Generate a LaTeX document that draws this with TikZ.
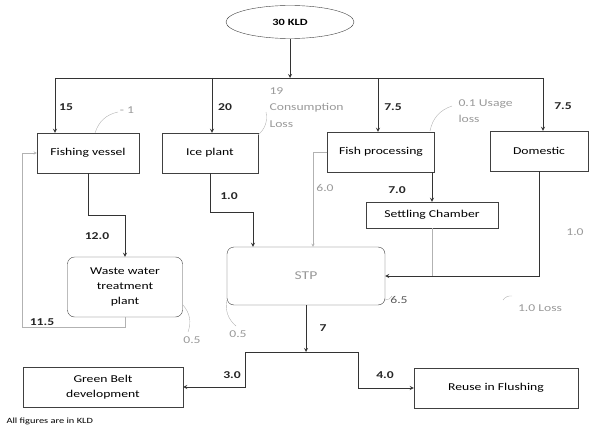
\documentclass[tikz,border=0pt]{standalone}
\usepackage{fontspec}
\setmainfont{Carlito}[FakeStretch=1.3]
\usetikzlibrary{arrows}
\usetikzlibrary{shapes}

\begin{document}
\begin{tikzpicture}[x=1pt, y=-1pt, >=stealth,
  box/.style={draw=black!75, rectangle, minimum height=40pt, font=\fontsize{10.5}{15}\selectfont, align=center},
  rbox/.style={box, rounded corners=7pt},
  num/.style={font=\fontsize{10.5}{13}\selectfont\bfseries, text=black!85},
  loss/.style={font=\fontsize{10.5}{16.5}\selectfont, text=black!40},
  flow/.style={draw=black!80, thick},
  lossline/.style={draw=black!30}]
\useasboundingbox (0,0) rectangle (589,428);

\node[ellipse, draw=black!75, minimum width=128pt, minimum height=33pt, font=\fontsize{9.5}{12}\selectfont\bfseries] (kld) at (290,22) {30 KLD};
\node[box, minimum width=102pt] (fv) at (88,153) {Fishing vessel};
\node[box, minimum width=96pt] (ice) at (210,153) {Ice plant};
\node[box, minimum width=107pt] (fp) at (381,152) {Fish processing};
\node[box, minimum width=98pt] (dom) at (539,151) {Domestic};
\node[box, minimum width=132pt, minimum height=26pt] (sc) at (432,215) {Settling Chamber};
\node[rbox, minimum width=158pt, minimum height=58pt, font=\large, text=black!40] (stp) at (306,276) {STP};
\node[rbox, minimum width=115pt, minimum height=60pt] (wwtp) at (125,287) {Waste water\\treatment\\plant};
\node[box, minimum width=160pt] (gb) at (103,387) {Green Belt\\development};
\node[box, minimum width=164pt] (reuse) at (496,388) {Reuse in Flushing};

\coordinate (bus) at (290,78);
\coordinate (busL) at (55,78);
\coordinate (busI) at (212,78);
\coordinate (busF) at (378,78);
\coordinate (busR) at (543,78);
\coordinate (split) at (306,352);
\coordinate (splitL) at (245,352);
\coordinate (splitR) at (358,352);
\coordinate (loop) at (22,327);

% supply
\draw[flow, ->] (kld) -- (bus);
\draw[flow] (busL) -- (busR);
\draw[flow, ->] (busL) -- (busL |- fv.north);
\draw[flow, ->] (busI) -- (busI |- ice.north);
\draw[flow, ->] (busF) -- (busF |- fp.north);
\draw[flow, ->] (busR) -- (busR |- dom.north);

% to treatment
\draw[flow, ->] (fv.south) -- ++(0,42) -| (wwtp.north);
\draw[flow, ->] (ice.south) -- ++(0,39) -| ([xshift=-53pt]stp.north);
\draw[flow, ->] (sc.north |- fp.south) -- (sc.north);
\draw[lossline, ->] (fp.west) -| ([xshift=7pt]stp.north);
\draw[flow, ->] (dom.south) |- (stp.east);
\draw[lossline] (sc.south) -- (sc.south |- stp.east);
\draw[lossline, ->] (wwtp.south) |- (loop) |- (fv.west);

% reuse
\draw[flow, ->] (stp.south) -- (split);
\draw[flow] (splitL) -- (splitR);
\draw[flow, ->] (splitL) |- (gb.east);
\draw[flow, ->] (splitR) |- (reuse.west);

% losses
\draw[lossline] (95,133) to [bend left] (118,112);
\draw[lossline] (258,135) to [bend right] (266,112);
\draw[lossline] (430,131) to [bend left] (452,106);
\draw[lossline] (183,305) to [bend left] (188,332);
\draw[lossline] (227,300) to [bend right] (236,326);
\draw[lossline] (385,300) to [bend right] (392,296);
\draw[lossline] (503,300) to [bend left] (512,296);

\node[num] (l15) at (66,107) {15};
\node[num] (l20) at (225,107) {20};
\node[num] (l75a) at (393,107) {7.5};
\node[num] (l75b) at (563,106) {7.5};
\node[num] (l10) at (229,196) {1.0};
\node[num] (l70) at (397,190) {7.0};
\node[num] (l120) at (97,236) {12.0};
\node[num] (l115) at (42,322) {11.5};
\node[num] (l7) at (323,328) {7};
\node[num] (l30) at (232,375) {3.0};
\node[num] (l40) at (385,375) {4.0};
\node[font=\fontsize{10.5}{13}\selectfont, text=black!65] (l65) at (399,300) {6.5};
\node[loss] (m1) at (127,110) {- 1};
\node[loss, align=left, anchor=north west] (m19) at (266,84) {19\\Consumption\\Loss};
\node[loss, align=left, anchor=north west] (m01) at (455,96) {0.1 Usage\\loss};
\node[loss] (m60) at (325,188) {6.0};
\node[loss] (m10) at (575,232) {1.0};
\node[loss] (m10l) at (540,308) {1.0 Loss};
\node[loss] (m05a) at (192,340) {0.5};
\node[loss] (m05b) at (238,334) {0.5};
\node[font=\fontsize{8}{10}\selectfont, anchor=west] (note) at (3,421) {All figures are in KLD};
\end{tikzpicture}
\end{document}
